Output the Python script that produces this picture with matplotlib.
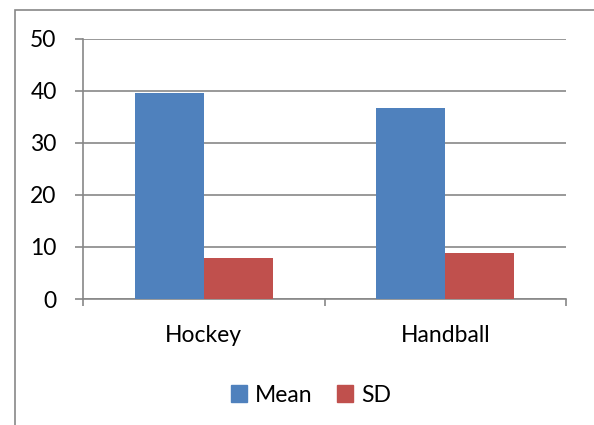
import numpy as np
import matplotlib.pyplot as plt
from matplotlib.patches import Rectangle, Patch

# data
categories = ['Hockey', 'Handball']
mean_vals = [39.6, 36.8]
sd_vals = [7.8, 8.9]

plt.rcParams['font.family'] = ['Lato', 'DejaVu Sans']
fs = 16.5
grey = '#878787'

fig = plt.figure(figsize=(5.94, 4.25), dpi=100)
W, H = 594, 425
ax = fig.add_axes([83 / W, 1 - 299 / H, (566 - 83) / W, (299 - 39) / H])

x = np.arange(len(categories))
w = 1 / 3.5
ax.bar(x - w / 2, mean_vals, w, color='#4F81BD', zorder=3, label='Mean')
ax.bar(x + w / 2, sd_vals, w, color='#C0504D', zorder=3, label='SD')

ax.set_xlim(-0.5, len(categories) - 0.5)
ax.set_ylim(0, 50)
ax.set_yticks(range(0, 51, 10))
ax.grid(axis='y', color=grey, linewidth=1.2, zorder=0)

# category boundaries get the tick marks, labels sit at the centres
ax.set_xticks(np.arange(-0.5, len(categories), 1))
ax.set_xticklabels([])
ax.set_xticks(x, minor=True)
ax.set_xticklabels(categories, minor=True)
ax.tick_params(axis='x', which='major', length=5, width=1.2, color=grey)
ax.tick_params(axis='x', which='minor', length=0, pad=19, labelsize=fs)
ax.tick_params(axis='y', length=6, width=1.2, color=grey, pad=13, labelsize=fs)

for s in ['top', 'right']:
    ax.spines[s].set_visible(False)
for s in ['left', 'bottom']:
    ax.spines[s].set_color(grey)
    ax.spines[s].set_linewidth(1.2)

# chart border (cropped on the right and bottom)
fig.patches.append(Rectangle((15 / W, -0.1), 1.2, 1 - 10 / H + 0.1,
                             transform=fig.transFigure, fill=False,
                             edgecolor=grey, linewidth=1.2))

handles = [Patch(color='#4F81BD', label='Mean'), Patch(color='#C0504D', label='SD')]
fig.legend(handles=handles, loc='center', bbox_to_anchor=(311 / W, 1 - 395 / H),
           ncol=2, frameon=False, fontsize=fs, handlelength=0.7, handleheight=0.7,
           handletextpad=0.35, columnspacing=1.1)

fig.savefig('out.png', dpi=100)
